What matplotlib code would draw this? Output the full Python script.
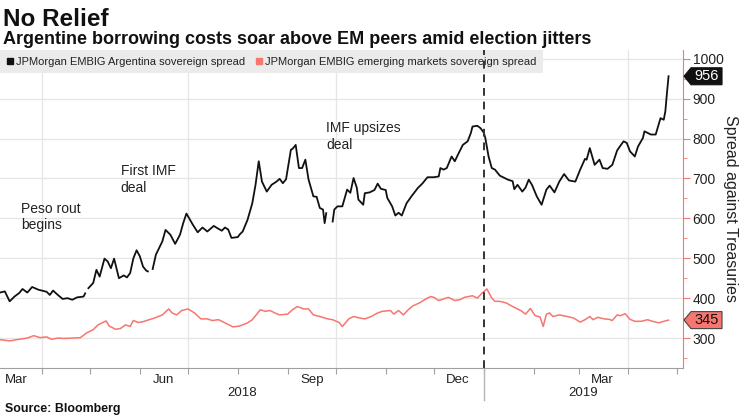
import pandas as pd
import matplotlib
matplotlib.use("Agg")
import matplotlib.pyplot as plt
import matplotlib.dates as mdates
from matplotlib.lines import Line2D
from matplotlib.patches import Polygon
from matplotlib.ticker import MultipleLocator, NullFormatter
from matplotlib.transforms import blended_transform_factory, IdentityTransform

# JPMorgan EMBIG Argentina sovereign spread (None = gap in the series)
arg_dates = [
    "2018-03-06", "2018-03-09", "2018-03-12", "2018-03-15", "2018-03-18", "2018-03-20", "2018-03-23",
    "2018-03-26", "2018-03-30", "2018-04-02", "2018-04-04", "2018-04-06", "2018-04-08", "2018-04-11",
    "2018-04-14", "2018-04-17", "2018-04-20", "2018-04-23", "2018-04-27", "2018-04-28", "2018-04-29",
    "2018-04-30", "2018-05-03", "2018-05-05", "2018-05-07", "2018-05-10", "2018-05-12", "2018-05-14",
    "2018-05-16", "2018-05-19", "2018-05-22", "2018-05-24", "2018-05-26", "2018-05-28", "2018-05-30",
    "2018-06-01", "2018-06-03", "2018-06-05", "2018-06-06", "2018-06-07",
    "2018-06-09", "2018-06-11", "2018-06-15", "2018-06-17", "2018-06-20", "2018-06-23", "2018-06-26",
    "2018-06-28", "2018-06-30", "2018-07-04", "2018-07-07", "2018-07-10", "2018-07-13", "2018-07-17",
    "2018-07-19", "2018-07-22", "2018-07-24", "2018-07-26", "2018-07-28", "2018-08-01", "2018-08-02",
    "2018-08-04", "2018-08-07", "2018-08-10", "2018-08-12", "2018-08-14", "2018-08-16", "2018-08-19",
    "2018-08-22", "2018-08-25", "2018-08-27", "2018-08-29", "2018-08-31", "2018-09-03", "2018-09-04",
    "2018-09-06", "2018-09-08", "2018-09-10", "2018-09-12", "2018-09-14", "2018-09-17", "2018-09-19",
    "2018-09-21", "2018-09-23", "2018-09-24", "2018-09-25", "2018-09-27",
    "2018-09-29", "2018-09-30", "2018-10-02", "2018-10-05", "2018-10-08", "2018-10-10", "2018-10-12",
    "2018-10-14", "2018-10-15", "2018-10-18", "2018-10-19", "2018-10-22", "2018-10-25", "2018-10-27",
    "2018-10-29", "2018-11-01", "2018-11-02", "2018-11-05", "2018-11-07", "2018-11-09", "2018-11-11",
    "2018-11-14", "2018-11-17", "2018-11-21", "2018-11-24", "2018-11-27", "2018-12-01", "2018-12-04",
    "2018-12-05", "2018-12-07", "2018-12-09", "2018-12-12", "2018-12-14", "2018-12-16", "2018-12-19",
    "2018-12-22", "2018-12-24", "2018-12-25", "2018-12-28", "2018-12-30", "2019-01-01", "2019-01-02",
    "2019-01-04", "2019-01-06", "2019-01-08", "2019-01-11", "2019-01-16", "2019-01-19", "2019-01-20",
    "2019-01-22", "2019-01-25", "2019-01-27", "2019-01-29", "2019-01-31", "2019-02-03", "2019-02-06",
    "2019-02-09", "2019-02-11", "2019-02-14", "2019-02-17", "2019-02-20", "2019-02-23", "2019-02-27",
    "2019-03-02", "2019-03-05", "2019-03-06", "2019-03-08", "2019-03-11", "2019-03-14", "2019-03-16",
    "2019-03-19", "2019-03-22", "2019-03-25", "2019-03-26", "2019-03-29", "2019-03-31", "2019-04-02",
    "2019-04-05", "2019-04-07", "2019-04-10", "2019-04-11", "2019-04-15", "2019-04-18", "2019-04-21",
    "2019-04-23", "2019-04-24", "2019-04-25", "2019-04-26",
]
arg_spread = [
    414, 417, 392, 404, 413, 423, 414,
    428, 421, 418, 416, 408, 419, 408,
    398, 400, 396, 402, 404, 412, None,
    425, 438, 471, 454, 499, 492, 475,
    499, 450, 457, 452, 463, 500, 520,
    505, 479, 469, 467, None,
    473, 509, 542, 571, 559, 536, 559,
    588, 612, 584, 565, 577, 567, 581,
    576, 569, 577, 572, 551, 553, 559,
    567, 596, 638, 684, 743, 692, 667,
    684, 692, 699, 688, 698, 772, 774,
    784, 726, 726, 747, 697, 655, 654,
    626, 622, 588, 613, None,
    592, 622, 630, 630, 672, 664, 701,
    677, 647, 634, 663, 665, 671, 687,
    674, 671, 651, 630, 607, 614, 607,
    638, 655, 676, 688, 703, 703, 705,
    726, 722, 726, 755, 743, 760, 784,
    793, 814, 830, 832, 826, 815, 801,
    755, 726, 722, 707, 697, 693, 673,
    684, 667, 677, 697, 684, 655, 634,
    672, 682, 665, 692, 711, 695, 692,
    722, 749, 747, 776, 734, 747, 726,
    724, 734, 770, 776, 793, 789, 768,
    755, 780, 801, 818, 810, 810, 851,
    847, 868, 914, 956,
]

# JPMorgan EMBIG emerging markets sovereign spread
em_dates = [
    "2018-03-06", "2018-03-12", "2018-03-18", "2018-03-23", "2018-03-27", "2018-03-31", "2018-04-04",
    "2018-04-07", "2018-04-11", "2018-04-15", "2018-04-20", "2018-04-25", "2018-04-29", "2018-05-03",
    "2018-05-06", "2018-05-11", "2018-05-13", "2018-05-17", "2018-05-20", "2018-05-23", "2018-05-26",
    "2018-05-28", "2018-05-31", "2018-06-03", "2018-06-06", "2018-06-10", "2018-06-15", "2018-06-19",
    "2018-06-21", "2018-06-24", "2018-06-27", "2018-07-01", "2018-07-05", "2018-07-09", "2018-07-13",
    "2018-07-16", "2018-07-20", "2018-07-25", "2018-07-29", "2018-08-02", "2018-08-07", "2018-08-10",
    "2018-08-15", "2018-08-18", "2018-08-21", "2018-08-24", "2018-08-27", "2018-09-01", "2018-09-04",
    "2018-09-07", "2018-09-11", "2018-09-14", "2018-09-17", "2018-09-21", "2018-09-26", "2018-09-29",
    "2018-10-03", "2018-10-05", "2018-10-09", "2018-10-12", "2018-10-16", "2018-10-19", "2018-10-23",
    "2018-10-27", "2018-10-30", "2018-11-04", "2018-11-06", "2018-11-09", "2018-11-12", "2018-11-15",
    "2018-11-18", "2018-11-22", "2018-11-26", "2018-11-29", "2018-12-01", "2018-12-04", "2018-12-07",
    "2018-12-10", "2018-12-14", "2018-12-17", "2018-12-20", "2018-12-25", "2018-12-28", "2018-12-31",
    "2019-01-03", "2019-01-06", "2019-01-08", "2019-01-11", "2019-01-15", "2019-01-19", "2019-01-24",
    "2019-01-27", "2019-01-30", "2019-02-02", "2019-02-05", "2019-02-07", "2019-02-09", "2019-02-11",
    "2019-02-13", "2019-02-17", "2019-02-22", "2019-02-26", "2019-03-02", "2019-03-05", "2019-03-08",
    "2019-03-10", "2019-03-13", "2019-03-17", "2019-03-20", "2019-03-22", "2019-03-25", "2019-03-27",
    "2019-03-30", "2019-04-02", "2019-04-05", "2019-04-09", "2019-04-13", "2019-04-16", "2019-04-20",
    "2019-04-23", "2019-04-26",
]
em_spread = [
    296, 293, 297, 300, 306, 301, 303,
    297, 300, 299, 300, 301, 313, 321,
    333, 343, 330, 322, 324, 333, 329,
    344, 339, 341, 345, 350, 358, 373,
    363, 358, 369, 373, 363, 348, 348,
    344, 346, 336, 328, 330, 338, 346,
    371, 367, 369, 363, 358, 360, 371,
    379, 373, 373, 358, 354, 348, 346,
    339, 329, 348, 354, 350, 348, 354,
    363, 367, 369, 360, 369, 358, 371,
    381, 388, 398, 404, 402, 394, 398,
    402, 394, 396, 402, 406, 400, 413,
    423, 400, 392, 392, 388, 379, 369,
    360, 374, 356, 353, 329, 360, 363,
    354, 358, 354, 350, 340, 346, 354,
    346, 352, 348, 347, 344, 358, 356,
    361, 347, 342, 342, 346, 342, 338,
    342, 345,
]

legend_labels = ["JPMorgan EMBIG Argentina sovereign spread",
                 "JPMorgan EMBIG emerging markets sovereign spread"]

BLACK = "#111111"
SALMON = "#f7766f"
GRID = "#e6e6e6"
TXT = "#222222"

plt.rcParams["font.family"] = ["Liberation Sans", "DejaVu Sans"]

arg = pd.Series(arg_spread, index=pd.to_datetime(arg_dates), dtype=float)
em = pd.Series(em_spread, index=pd.to_datetime(em_dates), dtype=float)

fig = plt.figure(figsize=(7.4, 4.16), dpi=100)
ax = fig.add_axes([0.0, 0.1154, 0.923, 0.7646])

ax.plot(em.index, em.values, color=SALMON, lw=1.1, zorder=3)
ax.plot(arg.index, arg.values, color=BLACK, lw=1.3, zorder=4)

x_start = pd.Timestamp("2018-03-06")
x_end = pd.Timestamp("2019-05-05")
new_year = pd.Timestamp("2019-01-01")
ax.set_xlim(x_start, x_end)
ax.set_ylim(225, 1022)

# grid
ax.set_yticks(range(300, 1001, 100))
ax.yaxis.set_minor_locator(MultipleLocator(50))
ax.grid(axis="y", which="major", color=GRID, lw=1, zorder=0)
for d in ["2018-04-01", "2018-07-01", "2018-10-01", "2019-04-01"]:
    ax.axvline(pd.Timestamp(d), color=GRID, lw=1, zorder=0)

# year divider
ax.axvline(new_year, color="#333333", lw=1.4, ls=(0, (4, 3)), zorder=6)
trans = blended_transform_factory(ax.transData, ax.transAxes)
ax.add_line(Line2D([new_year, new_year], [0, -0.1], transform=trans, color="#b5b5b5",
                   lw=1, clip_on=False))

# spines
for s in ["top", "left"]:
    ax.spines[s].set_visible(False)
ax.spines["right"].set_color(SALMON)
ax.spines["bottom"].set_color("#a0a0a0")

# y axis on the right
ax.yaxis.tick_right()
ax.tick_params(axis="y", which="both", color=SALMON, labelsize=10, labelcolor=TXT, pad=2)
ax.tick_params(axis="y", which="major", length=5)
ax.tick_params(axis="y", which="minor", length=3)
fig.text(0.9865, 0.4977, "Spread against Treasuries", rotation=270, ha="center", va="center",
         fontsize=11.5, color=TXT)

# x axis: ticks at month starts, labels mid-month
ax.xaxis.set_major_locator(mdates.MonthLocator())
ax.xaxis.set_major_formatter(NullFormatter())
ax.xaxis.set_minor_locator(mdates.MonthLocator(bymonth=[3, 6, 9, 12], bymonthday=16))
ax.xaxis.set_minor_formatter(mdates.DateFormatter("%b"))
ax.tick_params(axis="x", which="major", length=4, color="#a0a0a0")
ax.tick_params(axis="x", which="minor", length=0, pad=4, labelsize=9.5, labelcolor=TXT)

ax.text(x_start + (new_year - x_start) / 2, -0.08, "2018", transform=trans, ha="center",
        va="center", fontsize=9.5, color=TXT)
ax.text(new_year + (x_end - new_year) / 2, -0.08, "2019", transform=trans, ha="center",
        va="center", fontsize=9.5, color=TXT)

# annotations
ax.text(pd.Timestamp("2018-03-19"), 642, "Peso rout\nbegins", fontsize=10, color=TXT,
        va="top", linespacing=1.25)
ax.text(pd.Timestamp("2018-05-20"), 736, "First IMF\ndeal", fontsize=10, color=TXT,
        va="top", linespacing=1.25)
ax.text(pd.Timestamp("2018-09-25"), 843, "IMF upsizes\ndeal", fontsize=10, color=TXT,
        va="top", linespacing=1.25)

# legend
handles = [Line2D([], [], marker="s", color=BLACK, ls="none", ms=5),
           Line2D([], [], marker="s", color=SALMON, ls="none", ms=5)]
leg = ax.legend(handles, legend_labels, loc="upper left", bbox_to_anchor=(0, 1), ncol=2,
                frameon=True, fancybox=False, facecolor="#ebebeb", edgecolor="none",
                framealpha=1, handlelength=0.6, handletextpad=0.2, columnspacing=1.0,
                borderpad=0.6, borderaxespad=0.0, fontsize=8)
for t in leg.get_texts():
    t.set_color(TXT)
leg.set_zorder(5)


# last value tags on the right axis
def value_tag(y, text, fc, tc, ec):
    tr = blended_transform_factory(ax.transAxes, ax.transData)
    x0, y0 = tr.transform((1, y))
    pts = [(x0 + 1, y0), (x0 + 8, y0 + 8.5), (x0 + 39, y0 + 8.5),
           (x0 + 39, y0 - 8.5), (x0 + 8, y0 - 8.5)]
    fig.add_artist(Polygon(pts, closed=True, transform=IdentityTransform(),
                           facecolor=fc, edgecolor=ec, lw=0.8, zorder=4))
    fig.text(x0 + 23.5, y0, text, transform=IdentityTransform(), ha="center",
             va="center", color=tc, fontsize=10.5, zorder=5)


value_tag(arg.iloc[-1], f"{arg.iloc[-1]:.0f}", BLACK, "white", BLACK)
value_tag(em.iloc[-1], f"{em.iloc[-1]:.0f}", SALMON, BLACK, "#444444")

# titles
fig.text(0.004, 0.938, "No Relief", fontsize=17.5, fontweight="bold", color=BLACK)
fig.text(0.004, 0.895, "Argentine borrowing costs soar above EM peers amid election jitters",
         fontsize=13, fontweight="bold", color=BLACK)
fig.text(0.007, 0.01, "Source: Bloomberg", fontsize=8.9, fontweight="bold", color=BLACK)

fig.savefig("out.png", dpi=100)
